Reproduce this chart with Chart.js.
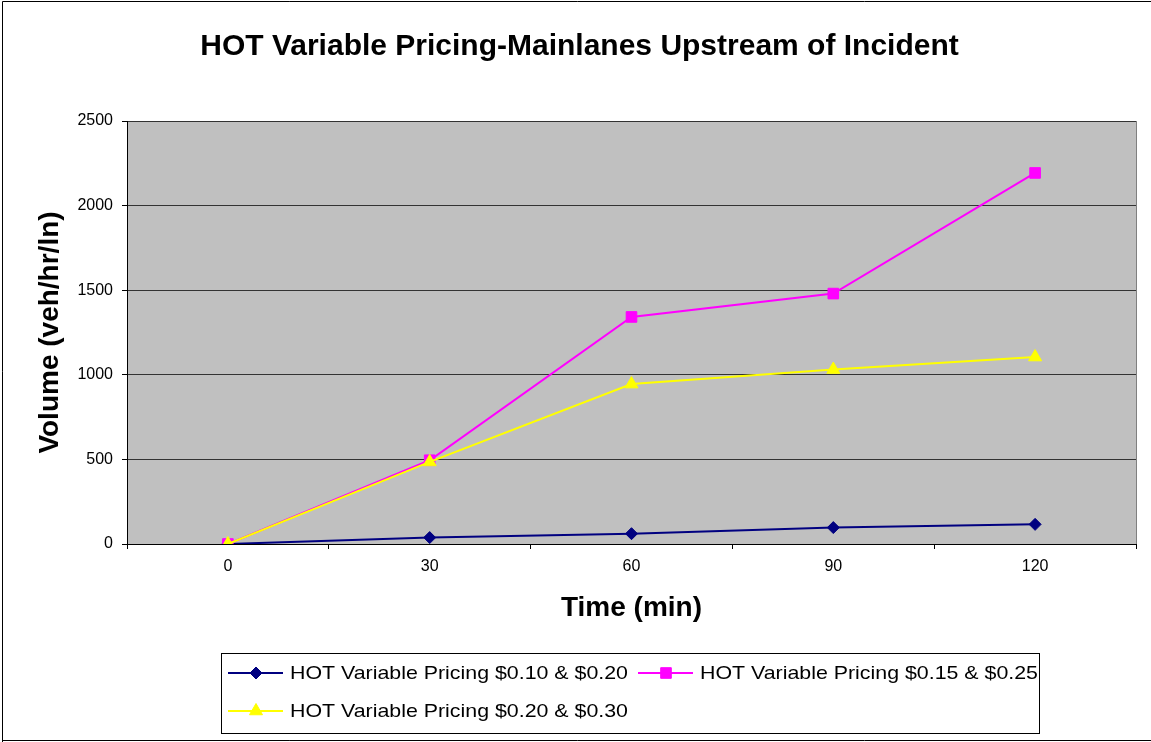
<!DOCTYPE html>
<html>
<head>
<meta charset="utf-8">
<script src="https://cdn.jsdelivr.net/npm/chart.js@4.4.1/dist/chart.umd.min.js"></script>
<style>
  html, body { margin: 0; padding: 0; background: #fff; }
  #wrap { width: 1151px; height: 742px; }
</style>
</head>
<body>
<div id="wrap"><canvas id="hot-chart"></canvas></div>
<script>
const timeLabels = ['0', '30', '60', '90', '120'];
const seriesNames = [
  'HOT Variable Pricing $0.10 & $0.20',
  'HOT Variable Pricing $0.15 & $0.25',
  'HOT Variable Pricing $0.20 & $0.30'
];
const pricing10 = [0, 38, 61, 97, 116];
const pricing15 = [0, 495, 1342, 1480, 2193];
const pricing20 = [0, 485, 945, 1031, 1105];
const yTicks = [0, 500, 1000, 1500, 2000, 2500];

const FONT = "'Liberation Sans', Arial, sans-serif";

// white page, outer frame, grey plot area
const backdrop = {
  id: 'backdrop',
  beforeDraw(chart) {
    const { ctx, chartArea: a } = chart;
    ctx.save();
    ctx.fillStyle = '#fff';
    ctx.fillRect(0, 0, chart.width, chart.height);
    ctx.fillStyle = '#c0c0c0';
    ctx.fillRect(a.left, a.top, a.right - a.left, a.bottom - a.top);
    ctx.strokeStyle = '#808080';
    ctx.lineWidth = 1;
    ctx.strokeRect(a.left + 0.5, a.top + 0.5, a.right - a.left, a.bottom - a.top);
    ctx.strokeStyle = '#000';
    ctx.beginPath();
    ctx.moveTo(2.5, 742);
    ctx.lineTo(2.5, 1.5);
    ctx.lineTo(1152, 1.5);
    ctx.moveTo(2.5, 740.5);
    ctx.lineTo(1152, 740.5);
    ctx.stroke();
    ctx.restore();
  }
};

// excel style legend: line with marker in the middle
const boxLegend = {
  id: 'boxLegend',
  afterDraw(chart) {
    const { ctx } = chart;
    const box = { x: 221.5, y: 653.5, w: 818, h: 80 };
    const cols = [228, 638];
    const rows = [673, 711];
    ctx.save();
    ctx.fillStyle = '#fff';
    ctx.fillRect(box.x, box.y, box.w, box.h);
    ctx.strokeStyle = '#000';
    ctx.lineWidth = 1;
    ctx.strokeRect(box.x, box.y, box.w, box.h);
    chart.data.datasets.forEach((ds, i) => {
      const x = cols[i % 2];
      const y = rows[Math.floor(i / 2)];
      ctx.strokeStyle = ds.borderColor;
      ctx.lineWidth = 2;
      ctx.beginPath();
      ctx.moveTo(x, y);
      ctx.lineTo(x + 55, y);
      ctx.stroke();
      ctx.fillStyle = ds.pointBackgroundColor;
      ctx.strokeStyle = ds.pointBorderColor;
      ctx.lineWidth = 1;
      Chart.helpers.drawPoint(ctx, { pointStyle: ds.pointStyle, radius: ds.pointRadius, borderWidth: 1 }, x + 28, y);
      // the source text is a bit wider than Arial, stretch it a little
      ctx.font = '19px ' + FONT;
      ctx.fillStyle = '#000';
      ctx.textBaseline = 'middle';
      ctx.textAlign = 'left';
      const w = ctx.measureText(ds.label).width;
      ctx.save();
      ctx.translate(x + 62, y + 1);
      ctx.scale(338 / w, 1);
      ctx.fillText(ds.label, 0, 0);
      ctx.restore();
    });
    ctx.restore();
  }
};

const ctx = document.getElementById('hot-chart');
new Chart(ctx, {
  type: 'line',
  data: {
    labels: timeLabels,
    datasets: [
      {
        label: seriesNames[0],
        data: pricing10,
        borderColor: '#000080',
        borderWidth: 2,
        pointStyle: 'rectRot',
        pointRadius: 6,
        pointBackgroundColor: '#000080',
        pointBorderColor: '#000080',
        pointBorderWidth: 1,
        order: 3
      },
      {
        label: seriesNames[1],
        data: pricing15,
        borderColor: '#ff00ff',
        borderWidth: 2,
        pointStyle: 'rect',
        pointRadius: 7.5,
        pointBackgroundColor: '#ff00ff',
        pointBorderColor: '#ff00ff',
        pointBorderWidth: 1,
        order: 2
      },
      {
        label: seriesNames[2],
        data: pricing20,
        borderColor: '#ffff00',
        borderWidth: 2,
        pointStyle: 'triangle',
        pointRadius: 7.5,
        pointBackgroundColor: '#ffff00',
        pointBorderColor: '#ffff00',
        pointBorderWidth: 1,
        order: 1
      }
    ]
  },
  options: {
    responsive: true,
    maintainAspectRatio: false,
    animation: false,
    devicePixelRatio: 1,
    layout: { padding: { left: 8, right: 0, top: 0, bottom: 0 } },
    elements: { line: { tension: 0 } },
    plugins: {
      legend: { display: false },
      tooltip: { enabled: false },
      title: {
        display: true,
        text: 'HOT Variable Pricing-Mainlanes Upstream of Incident',
        color: '#000',
        font: { family: FONT, size: 30, weight: 'bold' },
        padding: { top: 29, bottom: 56 }
      }
    },
    scales: {
      x: {
        offset: true,
        afterFit(scale) { scale.height = 198; },
        grid: {
          offset: true,
          drawOnChartArea: false,
          drawTicks: true,
          tickLength: 5,
          color: '#000'
        },
        border: { display: true, color: '#000', width: 1 },
        ticks: {
          color: '#000',
          padding: 8,
          maxRotation: 0,
          font: { family: FONT, size: 16 }
        },
        title: {
          display: true,
          text: 'Time (min)',
          color: '#000',
          font: { family: FONT, size: 28, weight: 'bold' },
          padding: { top: 0, bottom: 117 }
        }
      },
      y: {
        min: 0,
        max: 2500,
        afterFit(scale) { scale.width = 119; },
        afterBuildTicks(scale) { scale.ticks = yTicks.map(v => ({ value: v })); },
        grid: {
          color: '#333',
          lineWidth: 1,
          tickLength: 5,
          tickColor: '#000'
        },
        border: { display: true, color: '#000', width: 1 },
        ticks: {
          color: '#000',
          padding: 9,
          font: { family: FONT, size: 16 },
          callback: (v) => String(v)
        },
        title: {
          display: true,
          text: 'Volume (veh/hr/ln)',
          color: '#000',
          font: { family: FONT, size: 28, weight: 'bold' },
          padding: { top: 25, bottom: 0 }
        }
      },
      // empty strip that keeps the plot clear of the right edge
      gap: {
        type: 'linear',
        position: 'right',
        afterFit(scale) { scale.width = 15; },
        grid: { display: false, drawTicks: false },
        border: { display: false },
        ticks: { display: false },
        title: { display: false }
      }
    }
  },
  plugins: [backdrop, boxLegend]
});
</script>
</body>
</html>
